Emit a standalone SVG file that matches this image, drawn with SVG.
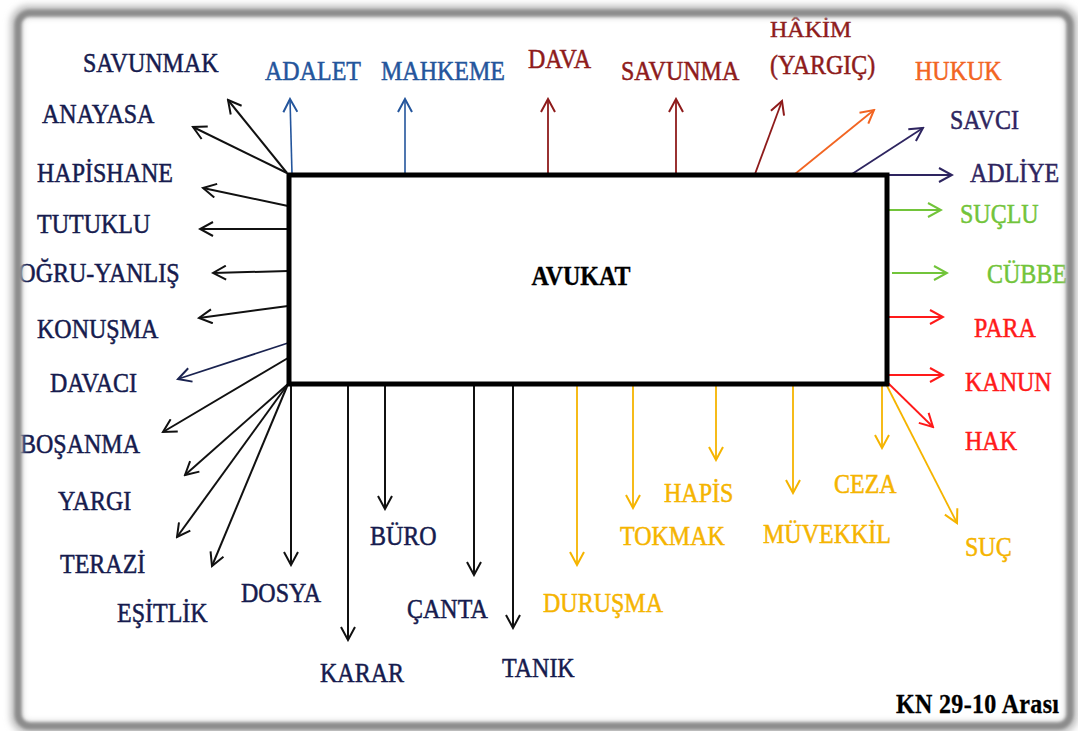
<svg xmlns="http://www.w3.org/2000/svg" width="1078" height="731" viewBox="0 0 1078 731">
<defs>
<style>
text{font-family:"Liberation Serif","Times New Roman",serif;font-size:24px;stroke-width:0.45}
.nv{fill:#161b4e;stroke:#161b4e}.bl{fill:#24559c;stroke:#24559c}.dr{fill:#8e1b1b;stroke:#8e1b1b}.or{fill:#f26522;stroke:#f26522}.pu{fill:#2e2560;stroke:#2e2560}.gr{fill:#72c43a;stroke:#72c43a}.rd{fill:#ff1a1a;stroke:#ff1a1a}.am{fill:#f5b400;stroke:#f5b400}
.b{font-weight:bold;fill:#000;stroke:#000;stroke-width:0.3}
line{fill:none}
.k{stroke:#111;stroke-width:2;marker-end:url(#mk)}
.knv{stroke:#1a2350;stroke-width:1.8;marker-end:url(#mnv)}
.kbl{stroke:#24559c;stroke-width:1.6;marker-end:url(#mbl)}
.kdr{stroke:#8e1b1b;stroke-width:1.8;marker-end:url(#mdr)}
.kor{stroke:#f26522;stroke-width:1.8;marker-end:url(#mor)}
.kpu{stroke:#2e2560;stroke-width:1.8;marker-end:url(#mpu)}
.kgr{stroke:#72c43a;stroke-width:1.8;marker-end:url(#mgr)}
.krd{stroke:#ff1a1a;stroke-width:1.8;marker-end:url(#mrd)}
.kam{stroke:#f5b400;stroke-width:1.8;marker-end:url(#mam)}
</style>
<marker id="mk" viewBox="0 0 16 16" refX="14" refY="8" markerWidth="16" markerHeight="16" markerUnits="userSpaceOnUse" orient="auto"><path d="M1,1 L14,8 L1,15" fill="none" stroke="#111" stroke-width="2"/></marker>
<marker id="mnv" viewBox="0 0 16 16" refX="14" refY="8" markerWidth="16" markerHeight="16" markerUnits="userSpaceOnUse" orient="auto"><path d="M1,1 L14,8 L1,15" fill="none" stroke="#1a2350" stroke-width="2"/></marker>
<marker id="mbl" viewBox="0 0 16 16" refX="14" refY="8" markerWidth="16" markerHeight="16" markerUnits="userSpaceOnUse" orient="auto"><path d="M1,1 L14,8 L1,15" fill="none" stroke="#24559c" stroke-width="2"/></marker>
<marker id="mdr" viewBox="0 0 16 16" refX="14" refY="8" markerWidth="16" markerHeight="16" markerUnits="userSpaceOnUse" orient="auto"><path d="M1,1 L14,8 L1,15" fill="none" stroke="#8e1b1b" stroke-width="2"/></marker>
<marker id="mor" viewBox="0 0 16 16" refX="14" refY="8" markerWidth="16" markerHeight="16" markerUnits="userSpaceOnUse" orient="auto"><path d="M1,1 L14,8 L1,15" fill="none" stroke="#f26522" stroke-width="2"/></marker>
<marker id="mpu" viewBox="0 0 16 16" refX="14" refY="8" markerWidth="16" markerHeight="16" markerUnits="userSpaceOnUse" orient="auto"><path d="M1,1 L14,8 L1,15" fill="none" stroke="#2e2560" stroke-width="2"/></marker>
<marker id="mgr" viewBox="0 0 16 16" refX="14" refY="8" markerWidth="16" markerHeight="16" markerUnits="userSpaceOnUse" orient="auto"><path d="M1,1 L14,8 L1,15" fill="none" stroke="#72c43a" stroke-width="2"/></marker>
<marker id="mrd" viewBox="0 0 16 16" refX="14" refY="8" markerWidth="16" markerHeight="16" markerUnits="userSpaceOnUse" orient="auto"><path d="M1,1 L14,8 L1,15" fill="none" stroke="#ff1a1a" stroke-width="2"/></marker>
<marker id="mam" viewBox="0 0 16 16" refX="14" refY="8" markerWidth="16" markerHeight="16" markerUnits="userSpaceOnUse" orient="auto"><path d="M1,1 L14,8 L1,15" fill="none" stroke="#f5b400" stroke-width="2"/></marker>
<filter id="blur" x="-5%" y="-5%" width="110%" height="110%"><feGaussianBlur stdDeviation="3"/></filter>
<filter id="blur2" x="-5%" y="-5%" width="110%" height="110%"><feGaussianBlur stdDeviation="1.5"/></filter>
</defs>
<rect width="1078" height="731" fill="#fff"/>

<g id="connectors">
<line class="k" x1="287" y1="173" x2="228" y2="100"/>
<line class="k" x1="287" y1="173" x2="193" y2="127"/>
<line class="kbl" x1="292" y1="174" x2="290" y2="99"/>
<line class="kbl" x1="405" y1="174" x2="405" y2="99"/>
<line class="kdr" x1="548" y1="174" x2="548" y2="99"/>
<line class="kdr" x1="676" y1="174" x2="676" y2="99"/>
<line class="kdr" x1="755" y1="174" x2="782" y2="101"/>
<line class="kor" x1="795" y1="174" x2="874" y2="110"/>
<line class="kpu" x1="852" y1="174" x2="923" y2="128"/>
<line class="kpu" x1="887" y1="175" x2="952" y2="175"/>
<line class="kgr" x1="887" y1="210" x2="941" y2="210"/>
<line class="kgr" x1="892" y1="273" x2="947" y2="273"/>
<line class="krd" x1="887" y1="317" x2="943" y2="317"/>
<line class="krd" x1="887" y1="375" x2="943" y2="375"/>
<line class="krd" x1="887" y1="382" x2="933" y2="427"/>
<line class="kam" x1="886" y1="384" x2="957" y2="523"/>
<line class="kam" x1="882" y1="384" x2="882" y2="448"/>
<line class="kam" x1="793" y1="384" x2="793" y2="493"/>
<line class="kam" x1="716" y1="384" x2="716" y2="460"/>
<line class="kam" x1="633" y1="384" x2="633" y2="508"/>
<line class="kam" x1="577" y1="384" x2="577" y2="565"/>
<line class="k" x1="513" y1="384" x2="513" y2="628"/>
<line class="k" x1="474" y1="384" x2="474" y2="575"/>
<line class="k" x1="385" y1="384" x2="385" y2="509"/>
<line class="k" x1="348" y1="384" x2="348" y2="640"/>
<line class="k" x1="291" y1="384" x2="291" y2="565"/>
<line class="k" x1="288" y1="384" x2="212" y2="566"/>
<line class="k" x1="288" y1="384" x2="177" y2="537"/>
<line class="k" x1="288" y1="384" x2="185" y2="475"/>
<line class="k" x1="288" y1="358" x2="163" y2="432"/>
<line class="knv" x1="288" y1="343" x2="178" y2="379"/>
<line class="k" x1="288" y1="306" x2="199" y2="318"/>
<line class="k" x1="288" y1="271" x2="213" y2="273"/>
<line class="k" x1="288" y1="229" x2="200" y2="229"/>
<line class="k" x1="288" y1="206" x2="203" y2="188"/>
</g>

<g id="avukat">
<rect x="289" y="175" width="598" height="209" fill="#fff" stroke="#000" stroke-width="5"/>
<text class="b" text-anchor="middle" transform="translate(581,285) scale(1,1.17)">AVUKAT</text>
</g>

<g id="savunmak"><text class="nv" transform="translate(83,72) scale(1,1.17)">SAVUNMAK</text></g>
<g id="adalet"><text class="bl" transform="translate(265,80) scale(1,1.17)">ADALET</text></g>
<g id="mahkeme"><text class="bl" transform="translate(381,80) scale(1,1.17)">MAHKEME</text></g>
<g id="dava"><text class="dr" transform="translate(528,68) scale(1,1.17)">DAVA</text></g>
<g id="savunma"><text class="dr" transform="translate(621,80) scale(1,1.17)">SAVUNMA</text></g>
<g id="hakim"><text class="dr" transform="translate(770,37) scale(1,1.0)">HÂKİM</text><text class="dr" transform="translate(770,74) scale(1,1.17)">(YARGIÇ)</text></g>
<g id="hukuk"><text class="or" transform="translate(915,80) scale(1,1.17)">HUKUK</text></g>
<g id="savci"><text class="pu" transform="translate(950,129) scale(1,1.17)">SAVCI</text></g>
<g id="adliye"><text class="pu" transform="translate(970,182) scale(1,1.17)">ADLİYE</text></g>
<g id="suclu"><text class="gr" transform="translate(960,223) scale(1,1.17)">SUÇLU</text></g>
<g id="cubbe"><text class="gr" transform="translate(987,283) scale(1,1.17)">CÜBBE</text></g>
<g id="para"><text class="rd" transform="translate(974,337) scale(1,1.17)">PARA</text></g>
<g id="kanun"><text class="rd" transform="translate(965,391) scale(1,1.17)">KANUN</text></g>
<g id="hak"><text class="rd" transform="translate(965,450) scale(1,1.17)">HAK</text></g>
<g id="suc"><text class="am" transform="translate(965,556) scale(1,1.17)">SUÇ</text></g>
<g id="ceza"><text class="am" transform="translate(834,493) scale(1,1.17)">CEZA</text></g>
<g id="muvekkil"><text class="am" transform="translate(763,543) scale(1,1.17)">MÜVEKKİL</text></g>
<g id="hapis"><text class="am" transform="translate(664,502) scale(1,1.17)">HAPİS</text></g>
<g id="tokmak"><text class="am" transform="translate(620,545) scale(1,1.17)">TOKMAK</text></g>
<g id="durusma"><text class="am" transform="translate(543,612) scale(1,1.17)">DURUŞMA</text></g>
<g id="tanik"><text class="nv" transform="translate(502,677) scale(1,1.17)">TANIK</text></g>
<g id="canta"><text class="nv" transform="translate(407,618) scale(1,1.17)">ÇANTA</text></g>
<g id="buro"><text class="nv" transform="translate(370,545) scale(1,1.17)">BÜRO</text></g>
<g id="karar"><text class="nv" transform="translate(320,682) scale(1,1.17)">KARAR</text></g>
<g id="dosya"><text class="nv" transform="translate(241,602) scale(1,1.17)">DOSYA</text></g>
<g id="esitlik"><text class="nv" transform="translate(117,622) scale(1,1.17)">EŞİTLİK</text></g>
<g id="terazi"><text class="nv" transform="translate(60,573) scale(1,1.17)">TERAZİ</text></g>
<g id="yargi"><text class="nv" transform="translate(58,510) scale(1,1.17)">YARGI</text></g>
<g id="bosanma"><text class="nv" transform="translate(20,453) scale(1,1.17)">BOŞANMA</text></g>
<g id="davaci"><text class="nv" transform="translate(50,392) scale(1,1.17)">DAVACI</text></g>
<g id="konusma"><text class="nv" transform="translate(37,338) scale(1,1.17)">KONUŞMA</text></g>
<g id="dogru-yanlis"><text class="nv" transform="translate(1,282) scale(1,1.17)">DOĞRU-YANLIŞ</text></g>
<g id="tutuklu"><text class="nv" transform="translate(37,233) scale(1,1.17)">TUTUKLU</text></g>
<g id="hapishane"><text class="nv" transform="translate(37,182) scale(1,1.17)">HAPİSHANE</text></g>
<g id="anayasa"><text class="nv" transform="translate(42,123) scale(1,1.17)">ANAYASA</text></g>

<g id="caption"><text class="b" transform="translate(896,713) scale(1,1.17)" textLength="163" lengthAdjust="spacing">KN 29-10 Arası</text></g>

<g id="frame">
<path fill="#fff" fill-rule="evenodd" d="M0,0 H1078 V731 H0 Z M30,13 H1058 Q1070,13 1070,25 V714 Q1070,726 1058,726 H30 Q18,726 18,714 V25 Q18,13 30,13 Z"/>
<rect x="16" y="11" width="1056" height="717" rx="12" fill="none" stroke="#c4c4c4" stroke-width="12" filter="url(#blur)"/>
<rect x="18" y="13" width="1052" height="713" rx="12" fill="none" stroke="#8c8c8c" stroke-width="7" filter="url(#blur2)"/>
</g>
</svg>
